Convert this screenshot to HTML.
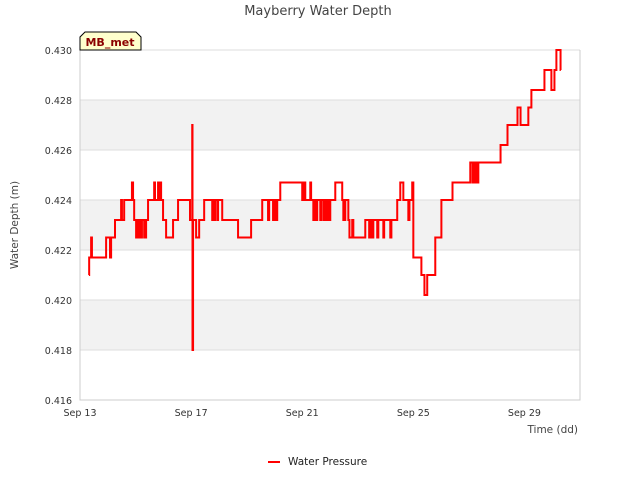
<!DOCTYPE html>
<html><head><meta charset="utf-8"><style>
body{margin:0;background:#fff;font-family:"Liberation Sans","DejaVu Sans",sans-serif}
svg text{font-family:"DejaVu Sans","Liberation Sans",sans-serif}
</style></head><body>
<svg id="c" width="640" height="480">
<text x="318" y="15" text-anchor="middle" font-size="13" fill="#444">Mayberry Water Depth</text>
<g id="bands"></g><g id="grid"></g>
<text x="18" y="225" transform="rotate(-90 18 225)" text-anchor="middle" font-size="10.5" fill="#444">Water Depth (m)</text>
<text x="578" y="433" text-anchor="end" font-size="10.5" fill="#444">Time (dd)</text>
<g id="series"></g>
<g>
<path d="M80,50 L80,37 L85,32 L136,32 L141,37 L141,50 Z" fill="#ffffcc" stroke="#000" stroke-width="1"/>
<text x="110" y="46" text-anchor="middle" font-size="11" font-weight="bold" fill="#8b0000">MB_met</text>
</g>
<g>
<line x1="268" y1="462" x2="280" y2="462" stroke="#f00" stroke-width="2"/>
<text x="288" y="465" font-size="10.5" fill="#222">Water Pressure</text>
</g>
</svg>
<script>
const yTicks=[0.416,0.418,0.420,0.422,0.424,0.426,0.428,0.430];
const xTickDays=[0,4,8,12,16];
const xTickLabels=["Sep 13","Sep 17","Sep 21","Sep 25","Sep 29"];
const times=[0.32,0.33,0.40,0.43,0.94,1.08,1.12,1.26,1.48,1.51,1.59,1.87,1.91,1.95,2.02,2.09,2.16,2.23,2.31,2.38,2.45,2.67,2.70,2.81,2.85,2.88,2.92,2.99,3.10,3.35,3.53,3.96,4.04,4.05,4.07,4.18,4.29,4.47,4.76,4.79,4.83,4.86,4.94,4.97,5.12,5.69,6.16,6.56,6.77,6.81,6.95,6.99,7.06,7.10,7.21,8.00,8.04,8.11,8.14,8.29,8.32,8.40,8.43,8.50,8.54,8.65,8.68,8.76,8.79,8.86,8.90,8.97,9.01,9.19,9.44,9.48,9.55,9.66,9.70,9.80,9.84,10.27,10.41,10.45,10.52,10.56,10.70,10.74,10.92,10.95,11.17,11.21,11.42,11.53,11.64,11.82,11.86,11.96,12.00,12.29,12.40,12.50,12.79,13.01,13.41,14.05,14.13,14.20,14.27,14.34,15.14,15.39,15.75,15.86,16.14,16.25,16.72,16.97,17.08,17.15,17.30,17.31];
const depths=[0.4210,0.4217,0.4225,0.4217,0.4225,0.4217,0.4225,0.4232,0.4240,0.4232,0.4240,0.4247,0.4240,0.4232,0.4225,0.4232,0.4225,0.4232,0.4225,0.4232,0.4240,0.4247,0.4240,0.4247,0.4240,0.4247,0.4240,0.4232,0.4225,0.4232,0.4240,0.4232,0.4270,0.4180,0.4232,0.4225,0.4232,0.4240,0.4232,0.4240,0.4232,0.4240,0.4232,0.4240,0.4232,0.4225,0.4232,0.4240,0.4232,0.4240,0.4232,0.4240,0.4232,0.4240,0.4247,0.4240,0.4247,0.4240,0.4240,0.4247,0.4240,0.4232,0.4240,0.4232,0.4240,0.4232,0.4240,0.4232,0.4240,0.4232,0.4240,0.4232,0.4240,0.4247,0.4240,0.4232,0.4240,0.4232,0.4225,0.4232,0.4225,0.4232,0.4225,0.4232,0.4225,0.4232,0.4225,0.4232,0.4225,0.4232,0.4225,0.4232,0.4240,0.4247,0.4240,0.4232,0.4240,0.4247,0.4217,0.4210,0.4202,0.4210,0.4225,0.4240,0.4247,0.4255,0.4247,0.4255,0.4247,0.4255,0.4262,0.4270,0.4277,0.4270,0.4277,0.4284,0.4292,0.4284,0.4292,0.4300,0.4292,0.4292];
const NS="http://www.w3.org/2000/svg";
const X0=80,X1=580,Y0=400,Y1=50,D0=0,D1=18,V0=0.416,V1=0.430;
function xs(d){return X0+(d-D0)/(D1-D0)*(X1-X0);}
function ys(v){return Y0-(v-V0)/(V1-V0)*(Y0-Y1);}
const bands=document.getElementById('bands'),grid=document.getElementById('grid'),svg=document.getElementById('c');
for(let i=0;i<yTicks.length-1;i++){
 if(i%2===1){const r=document.createElementNS(NS,'rect');
 r.setAttribute('x',X0);r.setAttribute('y',ys(yTicks[i+1]));r.setAttribute('width',X1-X0);r.setAttribute('height',ys(yTicks[i])-ys(yTicks[i+1]));r.setAttribute('fill','#f2f2f2');
 
 
 bands.appendChild(r);}
}
yTicks.forEach(v=>{
 const l=document.createElementNS(NS,'line');
 l.setAttribute('x1',X0);l.setAttribute('x2',X1);l.setAttribute('y1',ys(v));l.setAttribute('y2',ys(v));l.setAttribute('stroke','#dddddd');
 
 
 grid.appendChild(l);
 const t=document.createElementNS(NS,'text');
 t.setAttribute('x',72);t.setAttribute('y',ys(v)+4);t.setAttribute('text-anchor','end');t.setAttribute('font-size','9.5');t.setAttribute('fill','#333');
 t.textContent=v.toFixed(3);
 
 
 svg.appendChild(t);
});
const ax=document.createElementNS(NS,'path');
ax.setAttribute('d',`M${X0},${Y1}V${Y0}H${X1}V${Y1}`);ax.setAttribute('fill','none');ax.setAttribute('stroke','#ccc');


grid.appendChild(ax);
xTickDays.forEach((d,i)=>{
 const t=document.createElementNS(NS,'text');
 t.setAttribute('x',xs(d));t.setAttribute('y',416);t.setAttribute('text-anchor','middle');t.setAttribute('font-size','9.5');t.setAttribute('fill','#333');
 t.textContent=xTickLabels[i];
 
 
 svg.appendChild(t);
});
let d='';
for(let i=0;i<times.length;i++){
 const x=xs(times[i]),y=ys(depths[i]);
 if(i===0)d+=`M${x},${y}`;else d+=`H${x}V${y}`;
}
const p=document.createElementNS(NS,'path');
p.setAttribute('d',d);p.setAttribute('fill','none');p.setAttribute('stroke','#ff0000');p.setAttribute('stroke-width','2');


document.getElementById('series').appendChild(p);
</script>
</body></html>
